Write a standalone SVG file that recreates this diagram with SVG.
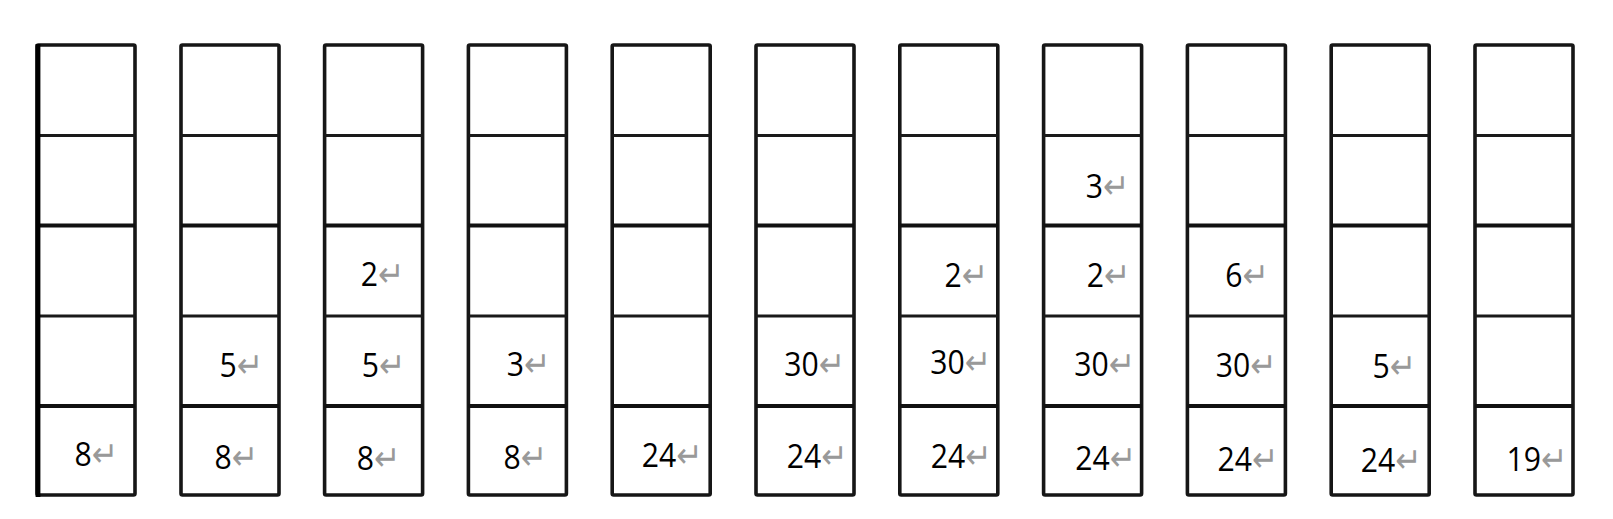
<svg xmlns="http://www.w3.org/2000/svg" width="1613" height="519" viewBox="0 0 1613 519">
<style>
.cell{fill:#fff;stroke:#161616;stroke-width:3.6;stroke-linejoin:round}
.thin{stroke:#1a1a1a;stroke-width:3}
.thick{stroke:#111;stroke-width:4.2}
.num{font-family:"Open Sans","Noto Sans",sans-serif;font-size:33.5px;fill:#000}
.ret{font-family:"DejaVu Sans",sans-serif;font-size:35px;fill:#999}
</style>
<defs>
<g id="col">
<rect class="cell" x="0" y="45" width="98" height="450" rx="1.5"/>
<line class="thin" x1="0" y1="135.5" x2="98" y2="135.5"/>
<line class="thick" x1="0" y1="225.5" x2="98" y2="225.5"/>
<line class="thin" x1="0" y1="316" x2="98" y2="316"/>
<line class="thick" x1="0" y1="406" x2="98" y2="406"/>
</g>
</defs>
<rect width="1613" height="519" fill="#fff"/>
<g id="column1">
<use href="#col" x="37"/>
<line x1="38" y1="44" x2="38" y2="497" stroke="#000" stroke-width="4.8"/>
<text class="num" transform="translate(74.5,465.5) scale(0.9,1)">8<tspan class="ret">↵</tspan></text>
</g>
<g id="column2">
<use href="#col" x="181"/>
<text class="num" transform="translate(219.5,377) scale(0.9,1)">5<tspan class="ret">↵</tspan></text>
<text class="num" transform="translate(214.5,469) scale(0.9,1)">8<tspan class="ret">↵</tspan></text>
</g>
<g id="column3">
<use href="#col" x="324.6"/>
<text class="num" transform="translate(360.8,286) scale(0.9,1)">2<tspan class="ret">↵</tspan></text>
<text class="num" transform="translate(361.8,377) scale(0.9,1)">5<tspan class="ret">↵</tspan></text>
<text class="num" transform="translate(356.8,470) scale(0.9,1)">8<tspan class="ret">↵</tspan></text>
</g>
<g id="column4">
<use href="#col" x="468.4"/>
<text class="num" transform="translate(506.8,375.5) scale(0.9,1)">3<tspan class="ret">↵</tspan></text>
<text class="num" transform="translate(503.5,469) scale(0.9,1)">8<tspan class="ret">↵</tspan></text>
</g>
<g id="column5">
<use href="#col" x="612.2"/>
<text class="num" transform="translate(641.8,466.5) scale(0.9,1)">24<tspan class="ret">↵</tspan></text>
</g>
<g id="column6">
<use href="#col" x="756"/>
<text class="num" transform="translate(784.2,375.5) scale(0.9,1)">30<tspan class="ret">↵</tspan></text>
<text class="num" transform="translate(786.8,468) scale(0.9,1)">24<tspan class="ret">↵</tspan></text>
</g>
<g id="column7">
<use href="#col" x="899.8"/>
<text class="num" transform="translate(944.5,286.5) scale(0.9,1)">2<tspan class="ret">↵</tspan></text>
<text class="num" transform="translate(930.2,374) scale(0.9,1)">30<tspan class="ret">↵</tspan></text>
<text class="num" transform="translate(930.8,468) scale(0.9,1)">24<tspan class="ret">↵</tspan></text>
</g>
<g id="column8">
<use href="#col" x="1043.6"/>
<text class="num" transform="translate(1085.8,198) scale(0.9,1)">3<tspan class="ret">↵</tspan></text>
<text class="num" transform="translate(1086.8,286.5) scale(0.9,1)">2<tspan class="ret">↵</tspan></text>
<text class="num" transform="translate(1074.2,376) scale(0.9,1)">30<tspan class="ret">↵</tspan></text>
<text class="num" transform="translate(1075.2,470) scale(0.9,1)">24<tspan class="ret">↵</tspan></text>
</g>
<g id="column9">
<use href="#col" x="1187.4"/>
<text class="num" transform="translate(1225.2,286.5) scale(0.9,1)">6<tspan class="ret">↵</tspan></text>
<text class="num" transform="translate(1215.8,377) scale(0.9,1)">30<tspan class="ret">↵</tspan></text>
<text class="num" transform="translate(1217.5,470.5) scale(0.9,1)">24<tspan class="ret">↵</tspan></text>
</g>
<g id="column10">
<use href="#col" x="1331.2"/>
<text class="num" transform="translate(1372.5,378) scale(0.9,1)">5<tspan class="ret">↵</tspan></text>
<text class="num" transform="translate(1360.8,471.5) scale(0.9,1)">24<tspan class="ret">↵</tspan></text>
</g>
<g id="column11">
<use href="#col" x="1475"/>
<text class="num" transform="translate(1506.5,470.5) scale(0.9,1)">19<tspan class="ret">↵</tspan></text>
</g>
<g id="connectors"/>
</svg>
